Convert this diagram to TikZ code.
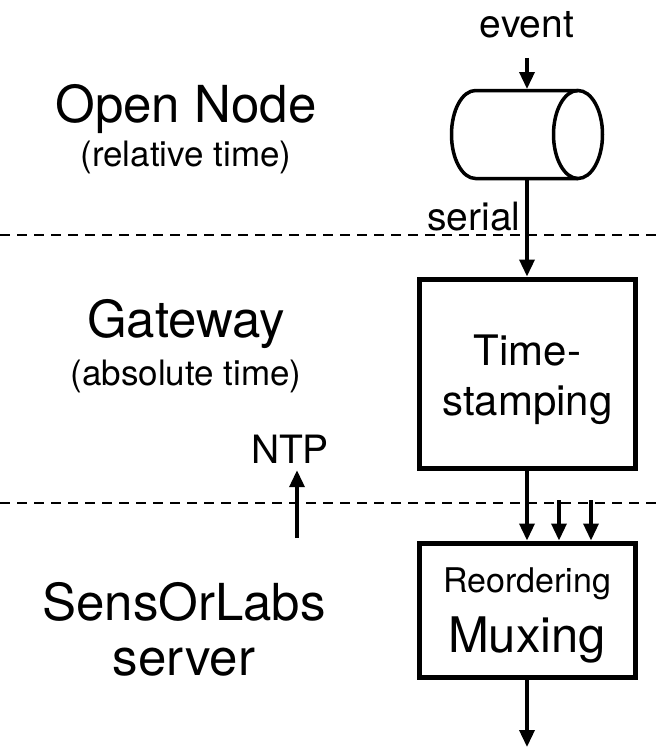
\documentclass[tikz,border=0pt]{standalone}
\usepackage{fontspec}
\setmainfont{TeX Gyre Heros}
\usetikzlibrary{arrows.meta}

\begin{document}
\begin{tikzpicture}[x = 1pt, y = -1pt]
	\tikzstyle{boxStyle} = [shape = rectangle, draw, line width = 5pt, minimum width = 216pt, align = center, inner sep = 0pt]
	\tikzstyle{titleStyle} = [anchor = base, inner sep = 0pt, font = \fontsize{51}{60}\selectfont]
	\tikzstyle{subStyle} = [anchor = base, inner sep = 0pt, font = \fontsize{35}{42}\selectfont]
	\tikzstyle{labelStyle} = [anchor = base, inner sep = 0pt, font = \fontsize{39}{46}\selectfont]
	\tikzstyle{arrowStyle} = [line width = 3.5pt, -{Triangle[length = 17pt, width = 15pt]}]
	\tikzstyle{dashStyle} = [line width = 2pt, dash pattern = on 10pt off 7pt]
	\useasboundingbox (0, 0) rectangle (661, 748);
	\node[titleStyle] (open) at (186, 122) {Open Node};
	\node[subStyle] (openSub) at (186, 166) {(relative time)};
	\node[titleStyle] (gate) at (186, 337) {Gateway};
	\node[subStyle] (gateSub) at (186, 385) {(absolute time)};
	\node[titleStyle] (srv) at (184, 620) {SensOrLabs};
	\node[titleStyle] (srvSub) at (184, 675) {server};
	\node[labelStyle] (event) at (527, 37) {event};
	\node[labelStyle] (serial) at (474, 230) {serial};
	\node[labelStyle] (ntp) at (290, 463) {NTP};
	\node[minimum width = 154pt, minimum height = 91pt, inner sep = 0pt, outer sep = 0pt] (cyl) at (527, 134.5) {};
	\draw[line width = 3.5pt] (578, 134.5) ellipse [x radius = 24.5, y radius = 44];
	\draw[line width = 3.5pt] (578, 90.5) -- (475.5, 90.5) arc[start angle = 270, end angle = 90, x radius = 24, y radius = 44] -- (578, 178.5);
	\node[boxStyle, minimum height = 189pt, font = \fontsize{42}{50}\selectfont, text height = 92pt, text depth = 9pt] (stamp) at (527.5, 373.5) {Time-\\stamping};
	\node[boxStyle, minimum height = 134pt, font = \fontsize{49}{60}\selectfont, text height = 95pt, text depth = 11pt] (mux) at (527, 610) {{\fontsize{34}{40}\selectfont Reordering}\\Muxing};
	\coordinate (in1) at (559, 500);
	\coordinate (in2) at (591, 500);
	\coordinate (ntpSrc) at (297, 538);
	\coordinate (out) at (527, 747);
	\draw[dashStyle] (0, 235) -- (661, 235);
	\draw[dashStyle] (0, 503) -- (661, 503);
	\draw[arrowStyle, shorten <= 20pt] (event) -- (event |- cyl.north);
	\draw[arrowStyle] (cyl.south) -- (cyl.south |- stamp.north);
	\draw[arrowStyle] (stamp.south -| mux.north) -- (mux.north);
	\draw[arrowStyle] (in1) -- (in1 |- mux.north);
	\draw[arrowStyle] (in2) -- (in2 |- mux.north);
	\draw[arrowStyle, shorten > = 7pt] (ntpSrc) -- (ntpSrc |- ntp.south);
	\draw[arrowStyle] (mux.south) -- (out);
\end{tikzpicture}
\end{document}
